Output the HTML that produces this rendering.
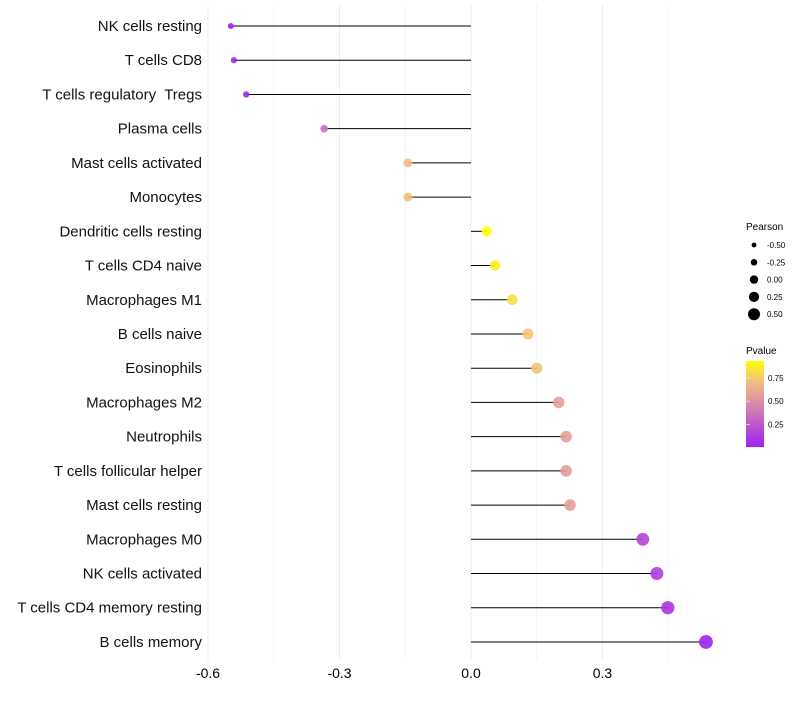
<!DOCTYPE html>
<html><head><meta charset="utf-8"><style>
body{margin:0;background:#fff;font-family:"Liberation Sans",sans-serif}
text{white-space:pre}
</style></head><body>
<svg id="chart" width="800" height="700" xmlns="http://www.w3.org/2000/svg" font-family="Liberation Sans, sans-serif">
<defs><linearGradient id="pg" x1="0" y1="1" x2="0" y2="0">
<stop offset="0" stop-color="#a020f0"/><stop offset="0.5" stop-color="#d98aa8"/><stop offset="0.78" stop-color="#f2c47c"/><stop offset="1" stop-color="#ffff00"/></linearGradient></defs>
<g id="grid"></g>
<g id="marks"></g>
<g id="legend">
<text x="746" y="230" font-size="10">Pearson</text>
<text x="746" y="354" font-size="10">Pvalue</text>
<rect x="746" y="361" width="18" height="86" fill="url(#pg)"/>
</g>
</svg>
<script>
const categories=["NK cells resting","T cells CD8","T cells regulatory  Tregs","Plasma cells","Mast cells activated","Monocytes","Dendritic cells resting","T cells CD4 naive","Macrophages M1","B cells naive","Eosinophils","Macrophages M2","Neutrophils","T cells follicular helper","Mast cells resting","Macrophages M0","NK cells activated","T cells CD4 memory resting","B cells memory"];
const pearson=[-0.548,-0.541,-0.513,-0.335,-0.144,-0.144,0.036,0.055,0.094,0.13,0.15,0.2,0.217,0.217,0.226,0.392,0.424,0.449,0.536];
const pvalues=[0.03,0.04,0.05,0.35,0.7,0.7,0.93,0.88,0.82,0.74,0.72,0.56,0.56,0.56,0.56,0.18,0.14,0.1,0.02];
const xTicks=[-0.6,-0.3,0.0,0.3];
const xTickLabels=["-0.6","-0.3","0.0","0.3"];
const sizeLegendValues=[-0.5,-0.25,0,0.25,0.5];
const sizeLegendLabels=["-0.50","-0.25","0.00","0.25","0.50"];
const colorLegendValues=[0.25,0.5,0.75];
const colorLegendLabels=["0.25","0.50","0.75"];

const NS="http://www.w3.org/2000/svg";
const x=v=>471+v*438.3;
const y=i=>26+i*34.22;
const r=v=>5+3.6*v;
function lerp(a,b,t){return a.map((c,k)=>Math.round(c+(b[k]-c)*t));}
function col(p){const t=Math.max(0,Math.min(1,(p-0.01)/0.92));
 const S=[[0,[160,32,240]],[0.5,[217,138,168]],[0.78,[242,196,124]],[1,[255,255,0]]];
 for(let k=0;k<S.length-1;k++){if(t<=S[k+1][0]){const c=lerp(S[k][1],S[k+1][1],(t-S[k][0])/(S[k+1][0]-S[k][0]));return `rgb(${c})`;}}
 return 'rgb(255,255,0)';}
function mk(tag,at,par){const e=document.createElementNS(NS,tag);for(const k in at)e.setAttribute(k,at[k]);par.appendChild(e);return e;}
const grid=document.getElementById('grid'),marks=document.getElementById('marks'),leg=document.getElementById('legend');
for(let k=0;k<8;k++){const v=-0.6+k*0.15;const l=mk('line',{x1:x(v),x2:x(v),y1:5,y2:660,stroke:'#ededed','stroke-width':k%2===0?1:0.6},grid);
 
 }
xTicks.forEach((v,i)=>{const t=mk('text',{x:x(v),y:678,'font-size':14,'text-anchor':'middle',fill:'#000'},grid);t.textContent=xTickLabels[i];
 
 });
categories.forEach((c,i)=>{
 const t=mk('text',{x:202,y:y(i)+5,'font-size':15,'text-anchor':'end',fill:'#111'},grid);t.textContent=c;
 
 
 const l=mk('line',{x1:x(0),x2:x(pearson[i]),y1:y(i),y2:y(i),stroke:'#000','stroke-width':1},marks);
 
 
 const d=mk('circle',{cx:x(pearson[i]),cy:y(i),r:r(pearson[i]),fill:col(pvalues[i]),'fill-opacity':0.9},marks);
 
 });
sizeLegendValues.forEach((v,i)=>{const yy=245+i*17.3;
 const d=mk('circle',{cx:754,cy:yy,r:r(v)-0.8,fill:'#000'},leg);
 
 
 const t=mk('text',{x:767,y:yy+3,'font-size':8},leg);t.textContent=sizeLegendLabels[i];
 
 });
colorLegendValues.forEach((v,i)=>{const yy=447-(v-0.01)/0.92*86;
 const t=mk('text',{x:768,y:yy+3,'font-size':8},leg);t.textContent=colorLegendLabels[i];
 
 
 const l=mk('line',{x1:746,x2:750,y1:yy,y2:yy,stroke:'#fff','stroke-opacity':0.6},leg);
 
 });
</script>
</body></html>
